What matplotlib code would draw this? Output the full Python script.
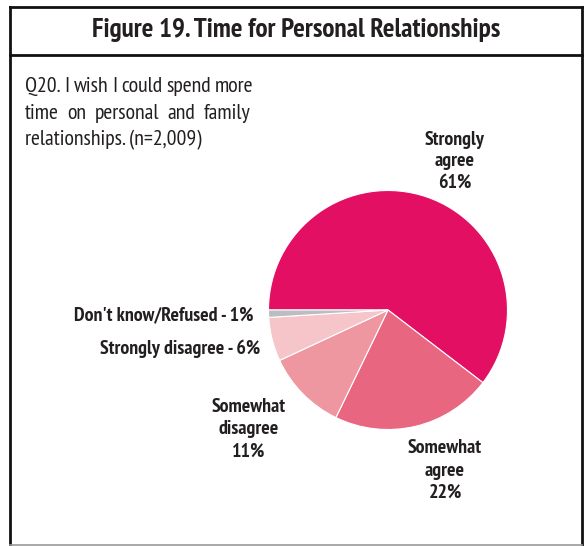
import matplotlib
matplotlib.use("Agg")
import matplotlib.pyplot as plt
from matplotlib import font_manager

# pick a narrow humanist face close to the original condensed type
prefs = ["PT Sans Narrow", "Asap Condensed", "Archivo Narrow",
         "Barlow Semi Condensed", "Liberation Sans Narrow"]
have = {f.name for f in font_manager.fontManager.ttflist}
FONT = next((p for p in prefs if p in have), "DejaVu Sans")
plt.rcParams['font.family'] = [FONT, 'DejaVu Sans']

# data
categories = ["Strongly agree", "Somewhat agree", "Somewhat disagree",
              "Strongly disagree", "Don't know/Refused"]
values = [61, 22, 11, 6, 1]
colors = ["#E20F63", "#E8667F", "#EF97A0", "#F5C5CA", "#BBBDC0"]

title = "Figure 19. Time for Personal Relationships"
q_lines = ["Q20. I wish I could spend more",
           "time on personal and family",
           "relationships. (n=2,009)"]

W, H = 584, 546
TXT = "#231F20"

fig = plt.figure(figsize=(W / 100, H / 100), dpi=100)
ax = fig.add_axes([0, 0, 1, 1])
ax.set_xlim(0, W)
ax.set_ylim(H, 0)
ax.axis("off")
renderer = fig.canvas.get_renderer()


def text_w(s, size, weight):
    t = ax.text(0, 0, s, fontsize=size, fontweight=weight)
    w = t.get_window_extent(renderer).width
    t.remove()
    return w


def fit(s, width, weight):
    # font size that makes s about `width` pixels wide
    return 20 * width / text_w(s, 20, weight)


# frame
ax.plot([10, 10], [7, 545], color="#111111", lw=2.0)
ax.plot([582, 582], [7, 545], color="#111111", lw=2.0)
ax.plot([10, 582], [7, 7], color="#111111", lw=2.0)
ax.plot([10, 582], [54.5, 54.5], color="#111111", lw=2.0)
ax.plot([10, 582], [545, 545], color="#999999", lw=1.2)

ts = fit(title, 409, "bold")
ax.text(296.5, 37, title, ha="center", va="baseline", fontsize=ts,
        fontweight="bold", color=TXT)

# justified question text
qs = fit(q_lines[0], 223, "normal") * 1.04
x0, x1 = 25, 250
for i, (line, y) in enumerate(zip(q_lines, [92, 119, 145])):
    words = line.split(" ")
    if i == len(q_lines) - 1:
        ax.text(x0, y, line, ha="left", va="baseline", fontsize=qs, color=TXT)
        continue
    arts = [ax.text(0, y, w, ha="left", va="baseline", fontsize=qs, color=TXT)
            for w in words]
    widths = [a.get_window_extent(renderer).width for a in arts]
    gap = max((x1 - x0 - sum(widths)) / (len(words) - 1), qs * 0.25)
    x = x0
    for a, w in zip(arts, widths):
        a.set_x(x)
        x += w + gap

# pie
cx, cy, R = 388, 310, 119.5
pax = fig.add_axes([(cx - R) / W, (H - cy - R) / H, 2 * R / W, 2 * R / H])
pax.pie(values, colors=colors, startangle=180, counterclock=False,
        radius=1, wedgeprops=dict(edgecolor="white", linewidth=0.8))
pax.set_xlim(-1, 1)
pax.set_ylim(-1, 1)
pax.axis("off")

ls = fit("Don't know/Refused - 1%", 167, "bold") * 1.07


def stacked(x, y, lines, step=22):
    for k, s in enumerate(lines):
        ax.text(x, y + k * step, s, ha="center", va="baseline", fontsize=ls,
                fontweight="bold", color=TXT)


stacked(455, 145, ["Strongly", "agree", "%d%%" % values[0]], 21.5)
stacked(445, 453, ["Somewhat", "agree", "%d%%" % values[1]], 22.5)
stacked(249, 412, ["Somewhat", "disagree", "%d%%" % values[2]], 22.5)
ax.text(260, 354, "%s - %d%%" % (categories[3], values[3]), ha="right",
        va="baseline", fontsize=ls, fontweight="bold", color=TXT)
ax.text(253, 320, "%s - %d%%" % (categories[4], values[4]), ha="right",
        va="baseline", fontsize=ls, fontweight="bold", color=TXT)

fig.savefig("out.png", dpi=100)
